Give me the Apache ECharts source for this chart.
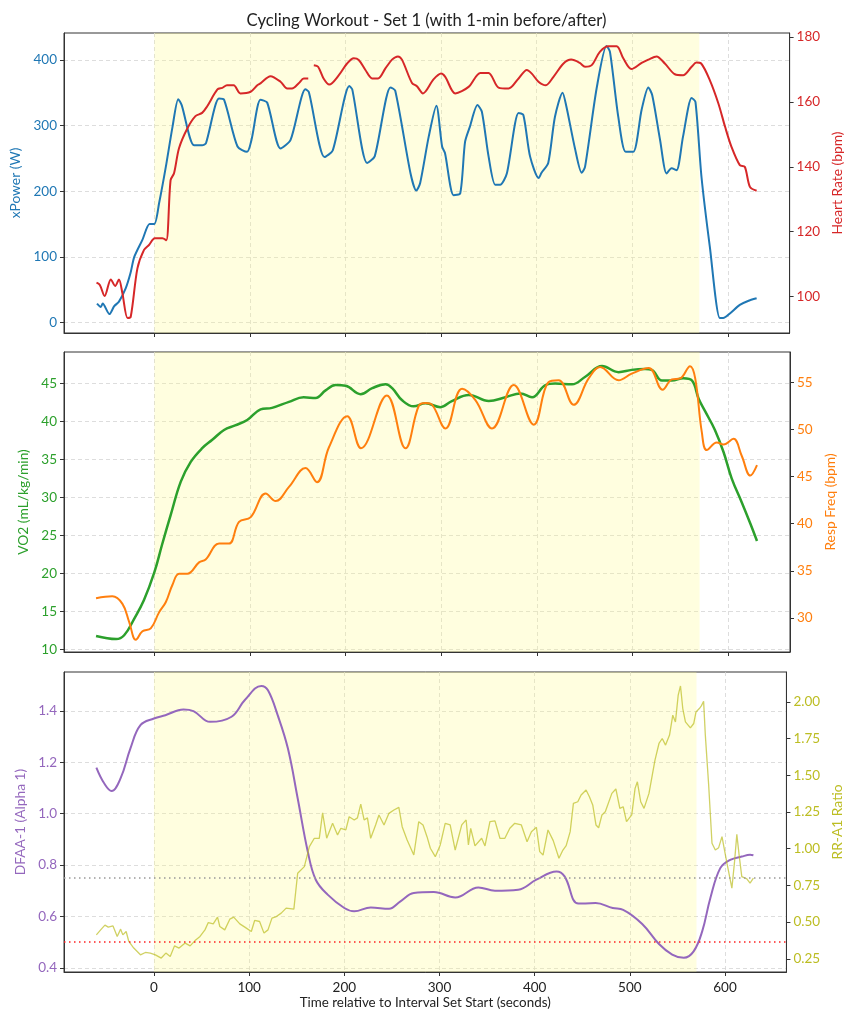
<!DOCTYPE html>
<html>
<head>
<meta charset="utf-8">
<script src="https://cdn.jsdelivr.net/npm/echarts@6/dist/echarts.min.js"></script>
<style>html,body{margin:0;padding:0;background:#fff}#chart{width:853px;height:1024px}</style>
</head>
<body>
<div id="chart"></div>
<script>
// ---------- DATA ----------
const xTicks = [0, 100, 200, 300, 400, 500, 600];
const powerTicks = [0, 100, 200, 300, 400];
const hrTicks = [100, 120, 140, 160, 180];
const vo2Ticks = [10, 15, 20, 25, 30, 35, 40, 45];
const rfTicks = [30, 35, 40, 45, 50, 55];
const dfaTicks = [0.4, 0.6, 0.8, 1.0, 1.2, 1.4];
const rrTicks = [0.25, 0.5, 0.75, 1.0, 1.25, 1.5, 1.75, 2.0];
const intervalStart = 0, intervalEnd = 570;
const thresholdHigh = 0.75, thresholdLow = 0.5;

const powerT = [-60,-56,-54,-47,-42,-37,-30,-25,-21,-12.5,-5,0,5,12,19,25,28.6,41.5,50,54,67.6,73,87,97,101.6,111,118,132,142.5,158,161.6,178,186.6,204,207,222.5,230.5,247,252,268,274,278,287,295,301,304,313,320,325,330,338,342.6,349.6,356.5,361.7,368.7,381,386,393,402,405,412,419,427,431,440,447,450.5,462.7,473,476.6,485.3,493,501,509.7,516.7,520.8,529,535.8,541,546.3,553,562,566,572.3,581,591.5,595,602,612.4,621,630];
const powerW = [29,24,29,13,25,32,52,75,100,126,150,150,182,237,298,340,331,270,270,273,341,339,268,260,278,339,335,265,278,355,351,252,262,360,355,243,253,358,353,227,201,212,283,330,268,258,194,197,275,298,331,321,253,210,210,227,319,316,253,220,228,243,313,350,329,265,228,237,357,421,412,313,260,260,324,358,346,278,227,235,232,283,342,336,222,116,7,7,14,27,33,37];

const hrT = [-60.5,-57,-52,-45.5,-41,-37,-33.4,-28,-24.7,-17.7,-10.8,-5.6,0.4,8.4,12.5,17,20.6,25.8,34.5,43,50,55,66,71,76,83,90,100.7,107.7,111,121.5,132,139,144,151,156.3,161,163.5,166.8,171.3,177,183,193,201.6,208.6,213.8,220.8,227.8,234,241.7,248.6,254.8,259,269.5,274.7,281,292,300,304.3,314.8,328.7,341,349.6,360,370.5,381,389.6,394.8,401.8,409.5,417.5,428,436,445,450.5,457.5,466,475,483.6,490.5,499,509.7,516.7,525.3,534,544.5,553,562,567,572,581,590,597,603.6,612.4,617.6,623,630];
const hrBpm = [104.3,103.6,100.2,105.3,103.3,105.3,101,93.4,93.8,108.7,114.4,115.9,118,118,117.4,135.9,138,145.7,151.8,155.6,156.6,158.5,163.8,164.3,165.1,165.1,162.6,163.1,165.1,165.7,167.9,166.2,164.1,164.1,165.7,167.2,167.2,null,171.3,170.8,167.2,165.3,168.2,171.8,173.4,172.9,169.8,167.2,167.2,170.3,173,174,173,165.8,164.8,162.6,166.9,168.7,167.7,162.6,164.6,168.9,168.9,164.4,164.1,167.2,169.8,168.7,166.2,165.1,167.7,171.8,173,172,170.8,171.3,175.4,177.1,177.1,173.4,170.1,172,173,174,171.8,168.5,168.2,170.8,172.1,171.8,166.7,159.5,152.3,146.2,140.5,140,133.8,132.6];

const vo2T = [-61,-40,-31.6,-21,-11,0,8,17,27.6,38,50,60.5,72.8,84.4,97,111,123,140.7,156,168.5,179,189.5,200,215.6,227.8,241.7,248.6,259,271,283.4,299,311,328.7,349.6,367,382.7,394.8,408.8,419,436.6,450.5,468,485.3,499,513,520,530.6,541,553,562,569,576,586,595,603.6,614,623,630];
const vo2 = [11.8,11.4,11.9,14.1,16.5,20.2,23.8,27.7,32.1,34.7,36.5,37.6,38.9,39.5,40.2,41.6,41.8,42.6,43.2,43.1,44.1,44.8,44.7,43.6,44.4,44.9,44.4,42.8,42.0,42.4,41.9,42.7,43.5,42.7,43.2,43.7,43.2,44.8,45.0,44.9,45.9,47.3,46.5,46.8,46.9,46.8,45.4,45.4,45.7,45.4,43.0,41.3,38.9,36.0,32.5,29.4,26.6,24.3];

const rfT = [-61,-44,-33.4,-26.4,-19.4,-12.5,-3.8,4.9,12,18.8,25.8,34.5,46.7,53.6,67.6,78,88.5,100.7,116.3,126.8,140.7,158,170,182.5,201.6,216,243,262.5,276.4,283.4,290.4,304.3,321.7,335.6,353,375.7,396.6,412,422.6,438.3,454,466,485.3,499,516.7,531.3,541,549.7,560,565.4,572.3,577.5,588,595,605.4,614,623,630];
const rf = [32.1,32.3,31.5,29.6,27.7,28.6,28.9,30.6,31.7,33.5,34.7,34.7,35.9,36.2,37.9,37.9,40.2,40.7,43.2,42.4,43.9,45.9,44.4,48.1,51.4,48.0,53.6,48.0,52.5,52.8,52.6,50.1,54.3,53.1,50.1,54.7,50.5,55.0,55.2,52.6,55.4,56.6,55.2,55.9,56.5,54.2,55.3,55.4,56.7,55.4,49.7,47.8,48.6,48.4,49.0,47.2,45.1,46.2];

const dfaT = [-60.5,-52.3,-44.5,-35,-24.7,-14.2,0,12,31,41.5,59,81.5,95.5,112.8,119.8,130,140.7,151,161.6,170,182.5,200,210.4,227.8,247,259,273,294,316.5,340.9,358.3,382.7,401.8,423,431.4,446,464,482,493,513,530.6,544.5,556.7,567,576,584.6,595,605.4,617.6,626.3,629.8];
const dfa = [1.179,1.118,1.088,1.138,1.254,1.344,1.370,1.383,1.405,1.399,1.357,1.377,1.442,1.497,1.480,1.383,1.254,1.060,0.853,0.743,0.685,0.633,0.620,0.635,0.630,0.659,0.691,0.695,0.674,0.713,0.700,0.704,0.743,0.775,0.756,0.650,0.652,0.633,0.626,0.571,0.493,0.452,0.439,0.464,0.542,0.672,0.788,0.820,0.833,0.840,0.838];

const rrT = [-60.5,-56,-51.5,-48,-43,-38.6,-35,-32.7,-29.2,-26.4,-21.2,-14.2,-9,-3.8,1.5,7.7,12.5,17.1,21.6,26.4,32.8,38,43.2,48.4,53.6,57.1,62.3,66.8,69.2,74.4,79.7,83.8,90.2,95.5,102.3,105.8,111,115.6,119.8,124,128.6,133.7,138.9,147,151,158,163.3,168.5,173.7,177.2,181.5,187.7,192.9,196.4,201.6,205.1,210.4,213.8,217.3,220.8,224.3,227.7,232.9,236.4,241.7,246.9,252.1,257.3,260.8,266,273,278.2,282.7,286.9,290.4,295.6,300.8,306,311.2,316.5,323.4,328,330.4,332.8,337.3,344.3,347.8,353,358.3,363.5,368.7,373.9,379.1,386,392,396.6,401.8,405.3,408.8,414,419.5,425.5,429.7,433.1,437.3,440.7,445.3,448.8,454,457.5,461,464.4,467.2,470.7,474.2,481.1,485.3,489.5,493,496.5,502,505.5,507.9,511.4,514.9,520.1,526.4,530.6,534,537.5,541.7,545.1,547.9,550.8,553.2,555.6,558.4,561.2,563.6,567.1,569.5,573,575.1,577.5,579.3,582.8,586.3,589.8,593.3,596.8,598.5,602,607.2,610,612.4,614.8,617.6,622.9,626.3,629.8];
const rr = [0.413,0.447,0.479,0.466,0.474,0.402,0.452,0.413,0.436,0.368,0.323,0.277,0.293,0.289,0.277,0.255,0.289,0.266,0.338,0.323,0.357,0.338,0.374,0.402,0.447,0.497,0.488,0.534,0.470,0.447,0.520,0.534,0.488,0.466,0.436,0.511,0.504,0.425,0.447,0.527,0.538,0.561,0.595,0.588,0.833,0.878,1.014,1.071,1.071,1.245,1.072,1.173,1.094,1.139,1.128,1.218,1.196,1.21,1.304,1.196,1.21,1.071,1.162,1.230,1.162,1.241,1.264,1.282,1.150,1.060,0.957,1.184,1.162,1.082,1.003,0.946,1.026,1.173,1.162,0.991,1.162,1.196,1.026,1.139,1.019,1.071,1.019,1.184,1.19,1.071,1.071,1.139,1.173,1.162,1.048,1.116,1.146,0.980,0.957,1.128,1.055,0.935,0.991,1.021,1.116,1.309,1.320,1.366,1.400,1.354,1.298,1.162,1.143,1.230,1.252,1.377,1.407,1.275,1.286,1.184,1.230,1.411,1.456,1.320,1.275,1.377,1.604,1.717,1.751,1.706,1.774,1.910,1.864,2.046,2.109,1.955,1.864,1.842,1.823,1.853,1.932,1.955,1.973,2.005,1.774,1.434,1.037,0.991,1.007,1.082,1.089,0.901,0.731,0.912,1.098,0.957,0.810,0.794,0.765,0.799];

// ---------- CHART ----------
const FONT = 'Lato, "Noto Sans", sans-serif';
const C = {power:'#1f77b4', hr:'#d62728', vo2:'#2ca02c', rf:'#ff7f0e', dfa:'#9467bd', rr:'#bcbd22'};
const X_MIN = -94.5, X_MAX = 664.5;
const zip = (t, v) => t.map((x, i) => [x, v[i] === null ? '-' : v[i]]);

const gridTops = [33, 352, 672];
const grids = gridTops.map(top => ({left: 64, right: 63, top: top, height: 300, show: true, borderColor: '#333', borderWidth: 1, backgroundColor: 'transparent'}));

function xAxis(i, withLabels) {
  return {
    type: 'value', gridIndex: i, min: X_MIN, max: X_MAX,
    axisLine: {show: true, onZero: false, lineStyle: {color: '#333'}},
    axisTick: {show: true, length: 4, customValues: xTicks, lineStyle: {color: '#333'}},
    axisLabel: {show: withLabels, customValues: xTicks, margin: 9, fontSize: 13.5, color: '#222', fontFamily: FONT},
    splitLine: {show: true, lineStyle: {type: [4, 3], color: '#d4d4d4', width: 0.8}},
    name: withLabels ? 'Time relative to Interval Set Start (seconds)' : '',
    nameLocation: 'middle', nameGap: 22,
    nameTextStyle: {fontSize: 13.4, color: '#222', fontFamily: FONT}
  };
}
function yAxis(i, pos, min, max, ticks, color, name, gap, digits, grid) {
  return {
    type: 'value', gridIndex: i, position: pos, min: min, max: max,
    axisLine: {show: true, onZero: false, lineStyle: {color: '#333'}},
    axisTick: {show: true, length: 4, customValues: ticks, lineStyle: {color: '#333'}},
    axisLabel: {customValues: ticks, margin: 7, fontSize: 13.5, color: color, fontFamily: FONT,
      formatter: v => Number(v).toFixed(digits)},
    splitLine: {show: grid, lineStyle: {type: [4, 3], color: '#d4d4d4', width: 0.8}},
    name: name, nameLocation: 'middle', nameRotate: 90, nameGap: gap,
    nameTextStyle: {fontSize: 13.8, color: color, fontFamily: FONT}
  };
}

const shade = {silent: true, z: 1, itemStyle: {color: 'rgba(255,250,140,0.28)'},
  data: [[{xAxis: intervalStart}, {xAxis: intervalEnd}]]};

function line(name, xi, yi, data, color, width, smooth) {
  return {name: name, type: 'line', xAxisIndex: xi, yAxisIndex: yi, data: data, showSymbol: false,
    smooth: smooth, connectNulls: false, animation: false,
    lineStyle: {color: color, width: width}, itemStyle: {color: color}, z: 3};
}

const sPower = line('xPower', 0, 0, zip(powerT, powerW), C.power, 2, 0.25);
sPower.markArea = shade;
const sHr = line('Heart Rate', 0, 1, zip(hrT, hrBpm), C.hr, 2, 0.3);
const sVo2 = line('VO2', 1, 2, zip(vo2T, vo2), C.vo2, 2.5, 0.4);
sVo2.markArea = shade;
const sRf = line('Resp Freq', 1, 3, zip(rfT, rf), C.rf, 2, 0.4);
const sDfa = line('DFAA-1', 2, 4, zip(dfaT, dfa), C.dfa, 2, 0.4);
sDfa.markArea = shade;
sDfa.markLine = {silent: true, symbol: ['none', 'none'], label: {show: false}, animation: false,
  data: [
    {yAxis: thresholdHigh, lineStyle: {color: '#999', type: [1.5, 3.5], width: 1.6}},
    {yAxis: thresholdLow, lineStyle: {color: '#ff2020', type: [1.5, 3.5], width: 1.6}}
  ]};
const sRr = line('RR-A1 Ratio', 2, 5, zip(rrT, rr), 'rgba(188,189,34,0.7)', 1.3, false);

const option = {
  animation: false,
  backgroundColor: '#fff',
  textStyle: {fontFamily: FONT},
  title: {text: 'Cycling Workout - Set 1 (with 1-min before/after)', left: 'center', top: 7,
    textStyle: {fontSize: 16.7, fontWeight: 'normal', color: '#222', fontFamily: FONT}},
  grid: grids,
  xAxis: [xAxis(0, false), xAxis(1, false), xAxis(2, true)],
  yAxis: [
    yAxis(0, 'left', -15.75, 440.75, powerTicks, C.power, 'xPower (W)', 39, 0, true),
    yAxis(0, 'right', 88.8, 181.2, hrTicks, C.hr, 'Heart Rate (bpm)', 40, 0, false),
    yAxis(1, 'left', 9.7, 49.15, vo2Ticks, C.vo2, 'VO2 (mL/kg/min)', 30, 0, true),
    yAxis(1, 'right', 26.4, 58.2, rfTicks, C.rf, 'Resp Freq (bpm)', 32, 0, false),
    yAxis(2, 'left', 0.384, 1.551, dfaTicks, C.dfa, 'DFAA-1 (Alpha 1)', 25, 1, true),
    yAxis(2, 'right', 0.16, 2.204, rrTicks, C.rr, 'RR-A1 Ratio', 43, 2, false)
  ],
  series: [sPower, sHr, sVo2, sRf, sDfa, sRr]
};

const chart = echarts.init(document.getElementById('chart'), null, {renderer: 'canvas'});
chart.setOption(option);
</script>
</body>
</html>
